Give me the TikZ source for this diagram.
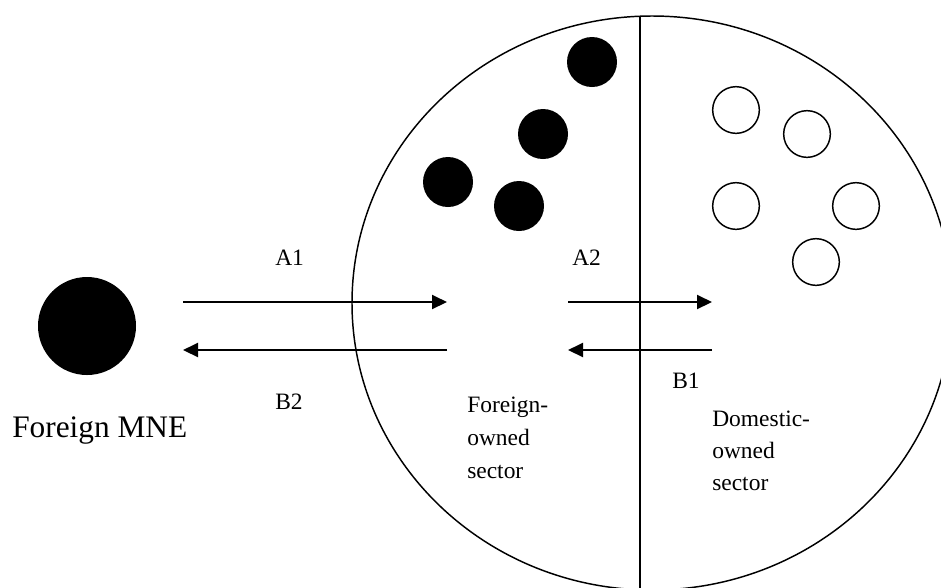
\documentclass[tikz,border=0pt]{standalone}
\usepackage{fontspec}
\setmainfont{Liberation Serif}
\usetikzlibrary{arrows.meta}
\tikzset{
  lbl/.style={inner sep=0pt, anchor=base west, font=\fontsize{17.6}{21}\selectfont},
  bigtxt/.style={inner sep=0pt, anchor=base west, font=\fontsize{23.5}{28}\selectfont},
  blackdot/.style={circle, fill=black, draw=none, inner sep=0pt, minimum size=37.5pt},
  opendot/.style={circle, draw=black, line width=1.1pt, fill=white, inner sep=0pt, minimum size=35pt},
  flow/.style={line width=1.5pt, -{Triangle[length=11.25pt, width=10.5pt]}},
  outline/.style={line width=1.1pt}
}
\begin{document}
\begin{tikzpicture}[x=0.75pt, y=-0.75pt]
\useasboundingbox (0,0) rectangle (941,587);
\clip (0,0) rectangle (941,587);
\fill[white] (0,0) rectangle (941,587);
% host economy
\draw[outline] (652,303) ellipse [x radius=300, y radius=287];
\coordinate (divtop) at (640,16);
\coordinate (divbot) at (640,590);
\draw[outline] (divtop) -- (divbot);
% foreign MNE
\node[blackdot, minimum size=73.5pt] (mne) at (87,326) {};
\node[bigtxt] (mnetxt) at (12,437) {Foreign MNE};
% foreign-owned firms
\node[blackdot] (f1) at (592,62) {};
\node[blackdot] (f2) at (543,134) {};
\node[blackdot] (f3) at (448,182) {};
\node[blackdot] (f4) at (519,206) {};
% domestic firms
\node[opendot] (d1) at (736,110) {};
\node[opendot] (d2) at (807,134) {};
\node[opendot] (d3) at (736,206) {};
\node[opendot] (d4) at (856,206) {};
\node[opendot] (d5) at (816,262) {};
% arrows
\coordinate (a1s) at (183,302);
\coordinate (a1e) at (447,302);
\coordinate (b2s) at (447,350);
\coordinate (b2e) at (183,350);
\coordinate (a2s) at (568,302);
\coordinate (a2e) at (712,302);
\coordinate (b1s) at (712,350);
\coordinate (b1e) at (568,350);
\draw[flow] (a1s) -- (a1e);
\draw[flow] (b2s) -- (b2e);
\draw[flow] (a2s) -- (a2e);
\draw[flow] (b1s) -- (b1e);
% labels
\node[lbl] (la1) at (275,265) {A1};
\node[lbl] (la2) at (572,265) {A2};
\node[lbl] (lb1) at (672,388) {B1};
\node[lbl] (lb2) at (275,409) {B2};
\node[lbl] (fsec) at (467,412) {\vtop{\baselineskip=24.75pt\hbox{Foreign-}\hbox{owned}\hbox{sector}}};
\node[lbl] (dsec) at (712,426) {\vtop{\baselineskip=24pt\hbox{Domestic-}\hbox{owned}\hbox{sector}}};
\end{tikzpicture}
\end{document}
